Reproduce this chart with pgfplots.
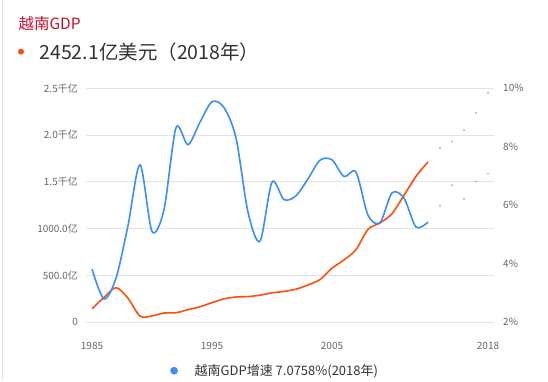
\documentclass[border=0pt]{standalone}
\usepackage{pgfplots}
\pgfplotsset{compat=1.18}
\usepackage{fontspec}
\setmainfont{Noto Sans CJK SC}
\definecolor{gdpblue}{HTML}{3A8EF6}
\definecolor{gdporange}{HTML}{FC4F0C}
\definecolor{titlered}{HTML}{C8102E}
\definecolor{ticktext}{HTML}{666666}
\definecolor{gridc}{HTML}{E3E3E3}
\definecolor{maintext}{HTML}{333333}
\pgfplotstableread{
year gdp
1985 141
1986 263
1987 367
1988 254
1989 63
1990 65
1991 96
1992 99
1993 132
1994 163
1995 207
1996 247
1997 268
1998 272
1999 287
2000 312
2001 327
2002 351
2003 396
2004 454
2005 576
2006 664
2007 774
2008 991
2009 1060
2010 1159
2011 1355
2012 1558
2013 1712
}\gdptable
\pgfplotstableread{
year gdp
2014 1862
2015 1932
2016 2053
2017 2238
2018 2452
}\gdpdots
\pgfplotstableread{
year rate
1985 3.81
1986 2.79
1987 3.50
1988 5.30
1989 7.38
1990 5.10
1991 5.85
1992 8.65
1993 8.07
1994 8.84
1995 9.54
1996 9.34
1997 8.30
1998 5.76
1999 4.77
2000 6.79
2001 6.19
2002 6.32
2003 6.90
2004 7.54
2005 7.55
2006 6.98
2007 7.13
2008 5.66
2009 5.40
2010 6.42
2011 6.24
2012 5.25
2013 5.42
}\ratetable
\pgfplotstableread{
year rate
2014 5.98
2015 6.68
2016 6.21
2017 6.81
2018 7.08
}\ratedots
\begin{document}
\begin{tikzpicture}
\path[use as bounding box] (0pt,0pt) rectangle (548pt,381pt);
\draw[color=gridc, line width=1pt] (2.5pt,0pt) -- (2.5pt,381pt);
\node[anchor=west, inner sep=0pt, text=titlered, font=\fontsize{15.5}{18}\selectfont] at (18.3pt,357.7pt) {越南GDP};
\node[circle, fill=gdporange, inner sep=0pt, minimum size=6pt] at (21pt,329.3pt) {};
\node[anchor=west, inner sep=0pt, text=maintext, font=\fontsize{19.5}{22}\selectfont] at (39.3pt,329.3pt) {2452.1亿美元（2018年）};
\begin{axis}[at={(86pt,59pt)}, anchor=south west, scale only axis, width=408pt, height=233.7pt,
  xmin=1984.5, xmax=2018.5, ymin=0, ymax=2500,
  axis y line*=left, axis x line*=bottom, axis line style={draw=none},
  major tick length=0pt,
  ymajorgrids, grid style={color=gridc, line width=0.8pt},
  xtick={1985,1995,2005,2018}, xticklabels={1985,1995,2005,2018},
  ytick={0,500,1000,1500,2000,2500},
  yticklabels={0,500.0亿,1000.0亿,1.5千亿,2.0千亿,2.5千亿},
  ticklabel style={font=\fontsize{10}{12}\selectfont, text=ticktext, inner sep=0pt},
  yticklabel style={anchor=east, xshift=-8pt},
  xticklabel style={anchor=base, yshift=-27pt},
  clip=false]
\addplot[color=gdporange, line width=1.6pt, smooth] table[x=year, y=gdp] {\gdptable};
\addplot[only marks, mark=*, mark size=0.8pt, color=gdporange!55] table[x=year, y=gdp] {\gdpdots};
\end{axis}
\begin{axis}[at={(86pt,59pt)}, anchor=south west, scale only axis, width=408pt, height=233.7pt,
  xmin=1984.5, xmax=2018.5, ymin=2, ymax=10,
  axis y line*=right, axis x line=none, axis line style={draw=none},
  major tick length=0pt,
  ytick={2,4,6,8,10}, yticklabels={2\%,4\%,6\%,8\%,10\%},
  ticklabel style={font=\fontsize{10}{12}\selectfont, text=ticktext, inner sep=0pt},
  yticklabel style={anchor=west, xshift=9pt},
  legend style={at={(0.2066,-0.2084)}, anchor=west, draw=none, fill=none, inner sep=0pt, outer sep=0pt,
    font=\fontsize{13}{15}\selectfont, text=maintext, nodes={inner sep=0pt}},
  clip=false]
\addplot[color=gdpblue, line width=1.6pt, smooth,
  legend image code/.code={\fill[gdpblue] (3pt,0pt) circle (3pt); \path (22.8pt,0pt);}]
  table[x=year, y=rate] {\ratetable};
\addlegendentry{越南GDP增速 7.0758\%(2018年)}
\addplot[only marks, mark=*, mark size=0.8pt, color=gdpblue!55, forget plot] table[x=year, y=rate] {\ratedots};
\end{axis}
\end{tikzpicture}
\end{document}
